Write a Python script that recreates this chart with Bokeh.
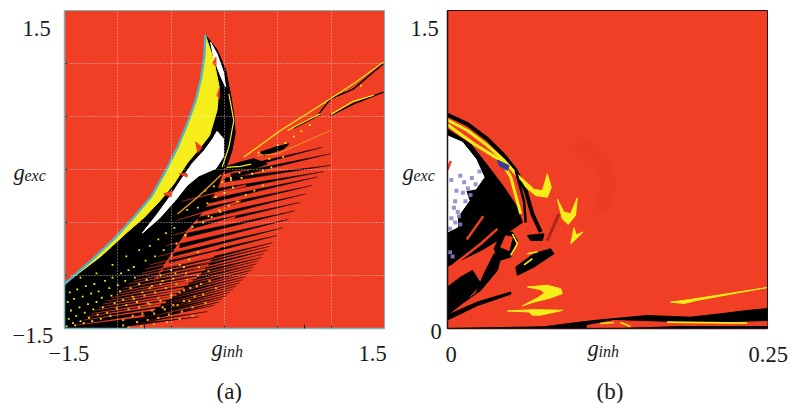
from bokeh.plotting import figure
from bokeh.models import Range1d, FixedTicker
from bokeh.layouts import row
from bokeh.embed import file_html
from bokeh.resources import INLINE
from bokeh.core.properties import value

RED = "#f03f24"; YEL = "#f5ee1a"; BLK = "#000000"; WHT = "#ffffff"; CYAN = "#4fb4c4"
ORG = "#ee9a22"; BLUE = "#3a3a9a"; PUR = "#8c80c4"; DRED = "#a8261c"; RED2 = "#e93a24"

# ---------- panel (a): g_inh in [-1.5, 1.5], g_exc in [-1.5, 1.5]
a_edge_x = [-0.18,-0.19,-0.22,-0.27,-0.35,-0.44,-0.55,-0.69,-0.85,-1.03,-1.25,-1.5]
a_edge_y = [1.27,1.06,0.86,0.65,0.43,0.21,-0.01,-0.26,-0.45,-0.65,-0.86,-1.08]
a_yin_x = [-0.10,-0.05,-0.07,-0.14,-0.25,-0.35,-0.47,-0.60,-0.75,-0.91,-1.16]
a_yin_y = [1.03,0.78,0.56,0.32,0.18,0.06,-0.13,-0.29,-0.45,-0.59,-0.82]
a_core_x = [-0.18,-0.07,0.01,0.06,0.09,0.10,0.07,0.03,-0.02,-0.07,-0.22,-0.35,-0.50,-0.66,-0.80,-0.92,-1.5]
a_core_y = [1.27,1.13,0.94,0.69,0.50,0.34,0.18,0.06,-0.04,-0.19,-0.42,-0.57,-0.79,-1.04,-1.30,-1.5,-1.5]
a_wht_x = [-0.07,-0.01,-0.01,-0.08,-0.24,-0.35,-0.46,-0.61,-0.77,-0.63,-0.50,-0.41,-0.30,-0.19,-0.11]
a_wht_y = [0.36,0.29,0.12,0.01,-0.06,-0.15,-0.29,-0.46,-0.60,-0.42,-0.24,-0.10,0.06,0.18,0.29]
a_wht2_x = [-0.13,-0.07,-0.01,0.01,-0.04,-0.10]
a_wht2_y = [1.20,1.09,0.92,0.78,0.89,1.05]
a_spike_x = [[-0.27,-0.21,-0.25],[-0.05,-0.07,-0.05],[-0.08,-0.11,-0.08],[-0.425,-0.35,-0.35],[-0.57,-0.49,-0.50]]
a_spike_y = [[0.26,0.21,0.16],[0.76,0.70,0.67],[1.06,1.00,0.98],[-0.04,-0.04,-0.07],[-0.23,-0.20,-0.26]]
# black stripes: base -> tip
a_bs_x0 = [0.0,0.06,0.0,-0.08,-0.15,-0.20,-0.25,-0.30,-0.35,-0.42,-0.48,-0.52,-0.58,-0.62,-0.68,-0.72,-0.78,-0.84,-0.88,-0.93,-0.97,-1.02]
a_bs_y0 = [-0.02,-0.06,-0.10,-0.20,-0.30,-0.38,-0.47,-0.54,-0.62,-0.72,-0.80,-0.87,-0.95,-1.01,-1.08,-1.14,-1.21,-1.27,-1.33,-1.39,-1.43,-1.48]
a_bs_x1 = [0.92,1.00,1.00,0.93,0.87,0.82,0.76,0.71,0.66,0.60,0.55,0.50,0.45,0.40,0.35,0.30,0.25,0.20,0.14,0.08,0.02,-0.05]
a_bs_y1 = [0.21,0.15,0.04,-0.02,-0.07,-0.15,-0.23,-0.31,-0.39,-0.47,-0.55,-0.62,-0.69,-0.76,-0.83,-0.89,-0.95,-1.01,-1.07,-1.13,-1.19,-1.25]
a_bt_x0 = [-0.6,-0.65,-0.7,-0.75,-0.81,-0.86,-0.9,-0.95,-1.0,-1.05,-1.1,-1.15]
a_bt_y0 = [-0.98,-1.05,-1.11,-1.18,-1.24,-1.3,-1.36,-1.41,-1.45,-1.48,-1.49,-1.5]
a_bt_x1 = [0.42,0.37,0.32,0.27,0.22,0.17,0.11,0.05,-0.02,-0.09,-0.16,-0.24]
a_bt_y1 = [-0.725,-0.795,-0.86,-0.92,-0.98,-1.04,-1.10,-1.16,-1.22,-1.28,-1.34,-1.39]
# red stripes cut into the black: tip -> outer end
a_rs_x0 = [-0.40,-0.45,-0.48,-0.55,-0.62,-0.70,-0.78,-0.85,-0.95,-1.02,-1.10,-1.18,-1.25,-1.32,-1.40,-0.75,-0.82,-0.9,-0.98,-1.06,-1.14,-1.22,-1.29]
a_rs_y0 = [-0.30,-0.48,-0.62,-0.72,-0.82,-0.90,-0.98,-1.05,-1.12,-1.18,-1.24,-1.30,-1.36,-1.42,-1.47,-0.94,-1.01,-1.08,-1.15,-1.21,-1.27,-1.33,-1.39]
a_rs_x1 = [0.20,0.15,0.10,0.05,0.00,-0.05,-0.10,-0.15,-0.22,-0.30,-0.38,-0.45,-0.55,-0.65,-0.75,-0.08,-0.13,-0.18,-0.26,-0.34,-0.42,-0.5,-0.6]
a_rs_y1 = [-0.15,-0.30,-0.45,-0.56,-0.66,-0.74,-0.82,-0.90,-0.98,-1.05,-1.12,-1.18,-1.25,-1.32,-1.38,-0.78,-0.86,-0.94,-1.02,-1.08,-1.15,-1.21,-1.28]
# wedge running to the upper right
a_yl_x = [[0.181,0.525,0.869,1.21,1.49],[0.59,0.75,0.90],[0.02,0.15,0.25],[1.0,1.2,1.4]]
a_yl_y = [[0.117,0.368,0.588,0.808,1.013],[0.368,0.45,0.526],[0.02,0.03,0.05],[0.52,0.64,0.70]]
a_bl_x = [[0.885,0.994,1.21,1.49],[0.994,1.21,1.49],[0.65,0.78,0.90]]
a_bl_y = [[0.525,0.667,0.761,1.0],[0.51,0.62,0.73],[0.39,0.46,0.52]]
a_or_x = [0.306,0.494,0.744,0.994]
a_or_y = [0.132,0.148,0.258,0.368]
a_eye_x = [0.3375,0.478,0.603,0.556,0.369]
a_eye_y = [0.164,0.211,0.242,0.195,0.132]
a_loop_x = [-0.006,0.15,0.275,0.40,0.275,0.119]
a_loop_y = [0.022,0.07,0.101,0.053,0.007,-0.009]
a_thin_x = [-0.03,-0.25,-0.44]
a_thin_y = [-0.05,-0.26,-0.42]
a_rim_x = [0.041,0.0875,0.041,-0.022]
a_rim_y = [0.714,0.463,0.211,0.022]
# yellow and orange specks
a_yd_x = [-1.45,-1.38,-1.30,-1.22,-1.12,-1.05,-0.97,-0.90,-1.47,-1.41,-1.33,-1.25,-1.18,-1.08,-1.0,-0.93,-0.84,-1.44,-1.36,-1.28,-1.2,-1.15,-1.06,-0.98,-0.88,-0.80,-0.73,
          -1.46,-1.39,-1.31,-1.23,-1.14,-1.03,-0.95,-0.86,-0.77,-1.42,-1.35,-1.27,-1.19,-1.10,-1.01,-0.92,-0.82,-1.48,-1.4,-1.32,-1.24,-1.16,-1.07,
          -1.35,-1.2,-1.05,-0.92,-0.8,-0.7,-0.62,-0.55,-0.47,-0.85,-0.74,-0.65,-0.57,-0.45,-0.37,-0.3,-0.2,-0.12,-0.04,-0.35,-0.25,-0.16,-0.08,0.0,0.08,
          -0.18,-0.1,-0.02,0.06,0.14,0.22,-0.15,-0.05,0.04,0.12,0.2,0.28,0.36,-0.6,-0.5,-0.42,-0.33,-0.25,-0.68,-0.58,-0.46,-0.38,
          0.32,0.43,0.5,0.57,0.65,0.72,0.8,0.95,1.05,1.15,1.28,0.12,0.2,0.3,0.42,0.55,0.06,0.16,0.26,0.36,0.44]
a_yd_y = [-1.16,-1.13,-1.10,-1.08,-1.05,-1.02,-0.98,-0.95,-1.25,-1.22,-1.2,-1.17,-1.15,-1.12,-1.09,-1.05,-1.02,-1.33,-1.3,-1.27,-1.25,-1.21,-1.19,-1.15,-1.12,-1.08,-1.04,
          -1.41,-1.38,-1.35,-1.32,-1.3,-1.26,-1.23,-1.2,-1.16,-1.45,-1.43,-1.4,-1.37,-1.35,-1.31,-1.28,-1.25,-1.48,-1.47,-1.45,-1.43,-1.41,-1.38,
          -1.02,-0.98,-0.9,-0.82,-0.76,-0.72,-0.66,-0.6,-0.55,-0.92,-0.86,-0.82,-0.76,-0.7,-0.62,-0.54,-0.5,-0.45,-0.4,-0.38,-0.36,-0.32,-0.26,-0.22,-0.17,
          -0.2,-0.16,-0.12,-0.08,-0.03,0.0,-0.44,-0.38,-0.34,-0.3,-0.24,-0.2,-0.15,-1.0,-0.95,-0.9,-0.85,-0.78,-1.1,-1.05,-0.98,-0.92,
          0.16,0.19,0.23,0.25,0.31,0.36,0.42,0.62,0.69,0.74,0.79,0.0,0.02,0.06,0.1,0.12,-0.1,-0.08,-0.04,-0.01,0.02]
a_od_x = [-0.95,-0.86,-0.77,-0.68,-0.58,-0.48,-0.38,-0.28,-0.9,-0.8,-0.7,-0.6,-0.5,-0.42,-0.32,-0.22,-0.85,-0.75,-0.65,-0.55,-0.45,-0.35,-0.25,-0.15,-0.95,-0.82,-0.72,-0.62,-0.52,-0.4,-0.3,-0.18,-0.08,-0.9,-0.78,-0.66,-0.54,-0.42,-0.3,
          -0.72,-0.62,-0.5,-0.38,-0.26,-0.14,-0.66,-0.56,-0.44,-0.33,-0.2,-0.7,-0.6,-0.48,-0.36,-0.24]
a_od_y = [-1.42,-1.38,-1.36,-1.33,-1.3,-1.28,-1.24,-1.2,-1.32,-1.3,-1.27,-1.24,-1.2,-1.16,-1.12,-1.08,-1.22,-1.19,-1.16,-1.12,-1.08,-1.04,-1.0,-0.96,-1.47,-1.44,-1.42,-1.4,-1.37,-1.34,-1.3,-1.26,-1.12,-1.49,-1.48,-1.46,-1.44,-1.41,-1.38,
          -1.26,-1.21,-1.18,-1.14,-1.1,-1.05,-1.36,-1.32,-1.28,-1.24,-1.18,-1.12,-1.08,-1.03,-0.98,-0.92]
a_grid = [-1.0,-0.5,0.0,0.5,1.0]
a_xticks = [-0.75,-0.5,0.0,0.5,0.75,1.0]
a_yticks = [-1.0,-0.5,0.0,0.5,1.0]

# ---------- panel (b): g_inh in [0, 0.25], g_exc in [0, 1.5]
b_outer_x = [0,.0156,.0312,.0442,.0533,.0611,.0663,.0728]
b_outer_y = [1.008,.964,.893,.815,.745,.650,.541,.455]
b_blob_x = [0,.0182,.0325,.0442,.0546,.0585,.0494,.039,.0286,.013,0]
b_blob_y = [.94,.87,.76,.666,.572,.50,.462,.415,.376,.329,.293]
b_wht_x = [0,.0117,.0221,.0286,.0221,.0143,.0169,.0078,.0078,0]
b_wht_y = [.909,.878,.80,.713,.658,.65,.603,.525,.478,.455]
b_yl1_x = [0,.0156,.0312,.0442,.0546,.0663]
b_yl1_y = [.983,.934,.863,.793,.721,.658]
b_yl2_x = [0,.0208,.0416,.0494,.0572]
b_yl2_y = [.961,.87,.793,.715,.541]
b_dk_x = [[.0533,.0598,.0611],[.0611,.0655,.0715]]
b_dk_y = [[.745,.60,.50],[.65,.55,.47]]
b_blue_x = [.039,.0481,.0468,.0403]
b_blue_y = [.795,.768,.745,.768]
b_cres_x = [[.0572,.0663,.0741,.078,.0811,.078,.0689,.0611],[.0858,.091,.0962,.1014,.1,.0943,.0897],
            [.0988,.1006,.106,.1006,.0962,.0975],[.0624,.078,.0884,.0897,.0806,.0676,.0585,.0702,.0759,.0728],
            [.0468,.0676,.0902,.0728,.0663,.0637],[.1742,.19,.2495,.195,.185]]
b_cres_y = [[.705,.658,.650,.729,.666,.619,.627,.666],[.611,.549,.541,.616,.533,.491,.517],
            [.475,.442,.455,.423,.40,.434],[.196,.204,.188,.165,.144,.125,.107,.144,.168,.183],
            [.083,.089,.086,.063,.063,.078],[.1245,.137,.193,.133,.118]]
b_blk_x = [[0,.0104,.0195,.026,.0195,.013,0],[.013,.026,.039,.0416,.0364,.0286,.022],
           [.0364,.0416,.0507,.0546,.0494,.04],[.0533,.0676,.0806,.0832,.0676,.0546],
           [.0624,.0754,.0741,.065],[0,.0234,.0494,.0494,.0234,0]]
b_blk_y = [[.196,.243,.274,.212,.165,.125,.063],[.125,.18,.274,.337,.353,.259,.165],
           [.376,.446,.455,.415,.337,.32],[.29,.353,.376,.353,.29,.251],
           [.439,.447,.415,.415],[.063,.125,.172,.162,.108,.04]]
b_ring_x = [.0416,.0455,.0507,.0481]
b_ring_y = [.384,.437,.431,.368]
b_low_x = [0,.075,.1039,.1195,.1559,.1898,.2133,.2341,.25,.25,0]
b_low_y = [0,.008,.0302,.0409,.0613,.0535,.0692,.0849,.094,0,0]
b_lowred_x = [.1091,.13,.169,.2081,.25,.25,.1821,.1091]
b_lowred_y = [.0142,.0377,.0299,.0252,.033,.0142,.0142,.0]
b_ylw_x = [[.0507,.0546,.0494],[.0598,.0663],[.0624,.0702],[.1195,.13],[.1352,.143],[.1716,.2341]]
b_ylw_y = [[.446,.40,.345],[.30,.329],[.353,.361],[.0236,.0283],[.0283,.0094],[.0299,.0252]]
b_rl_x = [[.0026,.026,.039],[.015,.028],[.0,.0026]]
b_rl_y = [[.29,.40,.47],[.42,.53],[.75,.79]]
b_streak_x = [.078,.0871]
b_streak_y = [.415,.541]
b_arc_x = [.1014,.1196,.1261,.1196]
b_arc_y = [.888,.792,.682,.556]
b_pur_x = [.003,.01,.016,.022,.006,.012,.003,.008,.014,.019,.025,.006,.002,.004,.01,.005,.013,.018,.009,.002,.007]
b_pur_y = [.70,.72,.66,.68,.60,.64,.52,.55,.60,.71,.74,.50,.36,.34,.49,.57,.69,.63,.53,.47,.65]

def frame(fig_w, left, right, xr, yr, edge):
    return figure(width=fig_w, height=403, x_range=Range1d(*xr), y_range=Range1d(*yr),
                  toolbar_location=None, output_backend="svg", background_fill_color=RED,
                  border_fill_color="white", outline_line_color=edge, outline_line_width=1,
                  min_border_left=left, min_border_right=right, min_border_top=10, min_border_bottom=75)

def style_axes(p, xt, yt, col):
    for ax, t in ((p.xaxis[0], xt), (p.yaxis[0], yt)):
        ax.ticker = FixedTicker(ticks=t)
        ax.major_label_text_color = None
        ax.major_label_standoff = 0
        ax.major_tick_in = 4
        ax.major_tick_out = 0
        ax.minor_tick_line_color = None
        ax.axis_line_color = col
        ax.major_tick_line_color = "#222222"
        ax.axis_line_width = 1.5

def text(p, s, px, base, size=22.5, italic=False, fl=64, fr=384, ft=10, fb=328):
    xr, yr = p.x_range, p.y_range
    x = xr.start + (px - fl) / (fr - fl) * (xr.end - xr.start)
    y = yr.end - (base - ft) / (fb - ft) * (yr.end - yr.start)
    p.text([x], [y], text=[s], text_font=value("Liberation Serif"), level="overlay",
           text_font_size=f"{size}px", text_font_style="italic" if italic else "normal",
           text_color="#1a1a1a", text_align="left", text_baseline="alphabetic")

def tapers(p, x0, y0, x1, y1, w, color, alpha=1.0):
    xs = [[a, c, a] for a, c in zip(x0, x1)]
    ys = [[b + w, d, b - w] for b, d in zip(y0, y1)]
    p.patches(xs, ys, fill_color=color, line_color=color, line_width=0.3, fill_alpha=alpha, line_alpha=alpha)

# ---- panel (a)
pa = frame(388, 64, 4, (-1.5, 1.5), (-1.5, 1.5), "#7fb6ba")
pa.patch(a_core_x + a_edge_x[::-1], a_core_y + a_edge_y[::-1], color=BLK)
tapers(pa, a_bs_x0, a_bs_y0, a_bs_x1, a_bs_y1, 0.02, BLK)
tapers(pa, a_bt_x0, a_bt_y0, a_bt_x1, a_bt_y1, 0.012, BLK)
tapers(pa, a_rs_x1, a_rs_y1, a_rs_x0, a_rs_y0, 0.009, RED)
pa.scatter(a_od_x, a_od_y, marker="square", size=2.2, color=ORG, line_width=0)
pa.scatter(a_yd_x, a_yd_y, marker="square", size=1.8, color=YEL, line_width=0)
pa.patch(a_eye_x, a_eye_y, color=BLK)
pa.patch(a_loop_x, a_loop_y, color=BLK)
pa.multi_line(a_bl_x, a_bl_y, line_color=BLK, line_width=1.5)
pa.multi_line(a_yl_x, a_yl_y, line_color=YEL, line_width=1.2)
pa.line(a_or_x, a_or_y, line_color=ORG, line_width=1)
pa.line(a_rim_x, a_rim_y, line_color=YEL, line_width=1.2)
pa.line(a_thin_x, a_thin_y, line_color=ORG, line_width=1.4)
pa.patch(a_edge_x + a_yin_x[::-1], a_edge_y + a_yin_y[::-1], color=YEL)
pa.patch(a_wht_x, a_wht_y, color=WHT)
pa.patch(a_wht2_x, a_wht2_y, color=WHT)
pa.patches(a_spike_x, a_spike_y, color=RED)
pa.line(a_edge_x, a_edge_y, line_color=CYAN, line_width=2.4)
for g in (pa.xgrid, pa.ygrid):
    g.ticker = FixedTicker(ticks=a_grid)
    g.grid_line_color = "white"
    g.grid_line_dash = "1 2"
    g.grid_line_alpha = 0.7
    g.level = "overlay"
style_axes(pa, a_xticks, a_yticks, "#7fb6ba")
text(pa, "1.5", 22, 28)
text(pa, "\u22121.5", 12, 335)
text(pa, "\u22121.5", 48, 353)
text(pa, "1.5", 358, 353)
text(pa, "g", 211, 348, italic=True)
text(pa, "inh", 222, 351, size=16, italic=True)
text(pa, "g", 13, 172, italic=True)
text(pa, "exc", 24, 175, size=16, italic=True)
text(pa, "(a)", 216, 391, size=23)

# ---- panel (b)
pb = frame(405, 59, 26, (0, 0.25), (0, 1.5), "#2a1010")
pb.line(b_arc_x, b_arc_y, line_color=RED2, line_width=16, line_alpha=0.6)
pb.line(b_outer_x, b_outer_y, line_color=BLK, line_width=4)
pb.patch(b_blob_x, b_blob_y, color=BLK)
pb.patch(b_wht_x, b_wht_y, color=WHT)
pb.scatter(b_pur_x, b_pur_y, marker="square", size=4, color=PUR, line_width=0, alpha=0.85)
pb.line(b_yl1_x, b_yl1_y, line_color=YEL, line_width=3)
pb.line(b_yl2_x, b_yl2_y, line_color=YEL, line_width=3)
pb.multi_line(b_dk_x, b_dk_y, line_color=BLK, line_width=2.5)
pb.patch(b_blue_x, b_blue_y, color=BLUE)
pb.patches(b_cres_x, b_cres_y, color=YEL)
pb.patches(b_blk_x, b_blk_y, color=BLK)
pb.patch(b_ring_x, b_ring_y, color=RED)
pb.patch(b_low_x, b_low_y, color=BLK)
pb.patch(b_lowred_x, b_lowred_y, color=RED)
pb.multi_line(b_ylw_x, b_ylw_y, line_color=YEL, line_width=1.6)
pb.multi_line(b_rl_x, b_rl_y, line_color=RED, line_width=2.5)
pb.line(b_streak_x, b_streak_y, line_color=DRED, line_width=3)
pb.xgrid.visible = False
pb.ygrid.visible = False
style_axes(pb, [], [], "#2a1010")
FL, FR = 447, 767
def tb(s, px, base, **k):
    text(pb, s, px, base, fl=FL, fr=FR, **k)
tb("1.5", 410, 28)
tb("0", 430, 331)
tb("0", 445, 354)
tb("0.25", 748, 354)
tb("g", 402, 172, italic=True)
tb("exc", 413, 175, size=16, italic=True)
tb("g", 587, 348, italic=True)
tb("inh", 598, 351, size=16, italic=True)
tb("(b)", 596, 391, size=23)

layout = row(pa, pb, spacing=0)
open("out.html", "w").write(file_html(layout, INLINE))
